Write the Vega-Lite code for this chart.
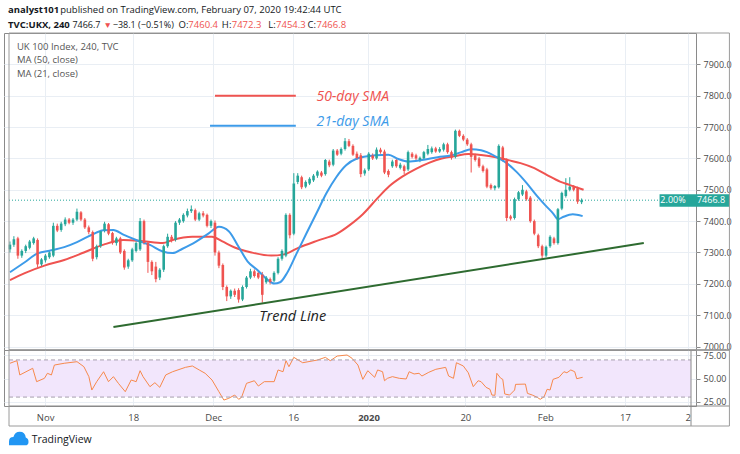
{
  "$schema": "https://vega.github.io/schema/vega-lite/v6.json",
  "background": "white",
  "padding": {"left": 3, "top": 4, "right": 0, "bottom": 0},
  "bounds": "flush",
  "spacing": 0,
  "config": {
    "view": {"stroke": "#8a8a8a", "strokeWidth": 1},
    "font": "Open Sans",
    "axis": {"labelFont": "Open Sans", "labelColor": "#4a4a4a", "labelFontSize": 9.5, "gridColor": "#e9eef4", "gridWidth": 1, "title": null, "labelOverlap": false},
    "text": {"font": "Open Sans"}
  },
  "resolve": {"scale": {"y": "independent", "x": "shared"}},
  "datasets": {
    "one": [{}],
    "candles": [
      {"t":-4.40,"o":7310,"h":7335,"l":7300,"c":7325},
      {"t":-3.91,"o":7325,"h":7352,"l":7318,"c":7342},
      {"t":-3.41,"o":7345,"h":7350,"l":7280,"c":7290},
      {"t":-2.92,"o":7290,"h":7310,"l":7283,"c":7305},
      {"t":-2.43,"o":7305,"h":7325,"l":7298,"c":7320},
      {"t":-1.94,"o":7315,"h":7340,"l":7310,"c":7335},
      {"t":-1.44,"o":7330,"h":7350,"l":7325,"c":7345},
      {"t":-0.95,"o":7340,"h":7345,"l":7253,"c":7262},
      {"t":-0.46,"o":7262,"h":7282,"l":7255,"c":7278},
      {"t":0.03,"o":7275,"h":7295,"l":7268,"c":7290},
      {"t":0.53,"o":7285,"h":7305,"l":7280,"c":7300},
      {"t":1.02,"o":7290,"h":7395,"l":7285,"c":7385},
      {"t":1.51,"o":7385,"h":7392,"l":7365,"c":7370},
      {"t":2.00,"o":7372,"h":7398,"l":7366,"c":7392},
      {"t":2.50,"o":7390,"h":7412,"l":7384,"c":7405},
      {"t":2.99,"o":7405,"h":7410,"l":7390,"c":7395},
      {"t":3.48,"o":7395,"h":7410,"l":7388,"c":7405},
      {"t":3.97,"o":7405,"h":7440,"l":7400,"c":7430},
      {"t":4.47,"o":7428,"h":7432,"l":7400,"c":7405},
      {"t":4.96,"o":7405,"h":7410,"l":7375,"c":7380},
      {"t":5.45,"o":7380,"h":7386,"l":7358,"c":7365},
      {"t":5.94,"o":7365,"h":7370,"l":7272,"c":7280},
      {"t":6.44,"o":7285,"h":7325,"l":7278,"c":7320},
      {"t":6.93,"o":7320,"h":7372,"l":7315,"c":7368},
      {"t":7.42,"o":7370,"h":7398,"l":7364,"c":7392},
      {"t":7.92,"o":7390,"h":7394,"l":7355,"c":7360},
      {"t":8.41,"o":7362,"h":7366,"l":7325,"c":7330},
      {"t":8.90,"o":7330,"h":7350,"l":7322,"c":7345},
      {"t":9.39,"o":7345,"h":7350,"l":7295,"c":7300},
      {"t":9.89,"o":7305,"h":7310,"l":7245,"c":7252},
      {"t":10.38,"o":7255,"h":7280,"l":7248,"c":7275},
      {"t":10.87,"o":7275,"h":7315,"l":7270,"c":7310},
      {"t":11.36,"o":7305,"h":7336,"l":7300,"c":7330},
      {"t":11.86,"o":7310,"h":7410,"l":7305,"c":7400},
      {"t":12.35,"o":7400,"h":7405,"l":7325,"c":7330},
      {"t":12.84,"o":7330,"h":7335,"l":7235,"c":7270},
      {"t":13.33,"o":7270,"h":7275,"l":7228,"c":7240},
      {"t":13.83,"o":7255,"h":7270,"l":7205,"c":7215},
      {"t":14.32,"o":7220,"h":7250,"l":7212,"c":7245},
      {"t":14.81,"o":7245,"h":7325,"l":7238,"c":7320},
      {"t":15.30,"o":7320,"h":7360,"l":7315,"c":7350},
      {"t":15.80,"o":7350,"h":7356,"l":7332,"c":7340},
      {"t":16.29,"o":7340,"h":7400,"l":7335,"c":7395},
      {"t":16.78,"o":7395,"h":7410,"l":7388,"c":7405},
      {"t":17.27,"o":7400,"h":7425,"l":7395,"c":7420},
      {"t":17.77,"o":7418,"h":7440,"l":7412,"c":7432},
      {"t":18.26,"o":7432,"h":7450,"l":7426,"c":7438},
      {"t":18.75,"o":7435,"h":7440,"l":7400,"c":7405},
      {"t":19.24,"o":7405,"h":7430,"l":7400,"c":7425},
      {"t":19.74,"o":7425,"h":7432,"l":7412,"c":7418},
      {"t":20.23,"o":7420,"h":7424,"l":7380,"c":7385},
      {"t":20.72,"o":7385,"h":7405,"l":7378,"c":7400},
      {"t":21.22,"o":7395,"h":7402,"l":7290,"c":7300},
      {"t":21.71,"o":7300,"h":7306,"l":7250,"c":7258},
      {"t":22.20,"o":7260,"h":7265,"l":7180,"c":7190},
      {"t":22.69,"o":7190,"h":7195,"l":7145,"c":7160},
      {"t":23.19,"o":7160,"h":7182,"l":7152,"c":7178},
      {"t":23.68,"o":7178,"h":7185,"l":7158,"c":7165},
      {"t":24.17,"o":7180,"h":7186,"l":7140,"c":7150},
      {"t":24.66,"o":7150,"h":7195,"l":7145,"c":7190},
      {"t":25.16,"o":7190,"h":7225,"l":7185,"c":7220},
      {"t":25.65,"o":7220,"h":7248,"l":7215,"c":7240},
      {"t":26.14,"o":7240,"h":7246,"l":7220,"c":7225},
      {"t":26.63,"o":7235,"h":7240,"l":7215,"c":7220},
      {"t":27.13,"o":7230,"h":7238,"l":7140,"c":7165},
      {"t":27.62,"o":7205,"h":7225,"l":7200,"c":7220},
      {"t":28.11,"o":7215,"h":7220,"l":7198,"c":7205},
      {"t":28.60,"o":7210,"h":7240,"l":7205,"c":7235},
      {"t":29.10,"o":7235,"h":7285,"l":7230,"c":7280},
      {"t":29.59,"o":7280,"h":7310,"l":7274,"c":7305},
      {"t":30.08,"o":7290,"h":7425,"l":7285,"c":7420},
      {"t":30.57,"o":7420,"h":7425,"l":7345,"c":7355},
      {"t":31.07,"o":7360,"h":7553,"l":7355,"c":7520},
      {"t":31.56,"o":7525,"h":7553,"l":7518,"c":7545},
      {"t":32.05,"o":7540,"h":7545,"l":7502,"c":7508},
      {"t":32.55,"o":7510,"h":7530,"l":7505,"c":7525},
      {"t":33.04,"o":7520,"h":7540,"l":7515,"c":7535},
      {"t":33.53,"o":7530,"h":7550,"l":7525,"c":7545},
      {"t":34.02,"o":7545,"h":7562,"l":7538,"c":7558},
      {"t":34.52,"o":7555,"h":7560,"l":7540,"c":7545},
      {"t":35.01,"o":7550,"h":7598,"l":7545,"c":7595},
      {"t":35.50,"o":7590,"h":7596,"l":7572,"c":7578},
      {"t":35.99,"o":7580,"h":7630,"l":7575,"c":7625},
      {"t":36.49,"o":7625,"h":7630,"l":7608,"c":7612},
      {"t":36.98,"o":7615,"h":7635,"l":7610,"c":7630},
      {"t":37.47,"o":7630,"h":7665,"l":7625,"c":7655},
      {"t":37.96,"o":7655,"h":7662,"l":7636,"c":7640},
      {"t":38.46,"o":7640,"h":7645,"l":7608,"c":7612},
      {"t":38.95,"o":7615,"h":7622,"l":7595,"c":7600},
      {"t":39.44,"o":7610,"h":7617,"l":7540,"c":7550},
      {"t":39.93,"o":7552,"h":7568,"l":7545,"c":7562},
      {"t":40.43,"o":7565,"h":7620,"l":7560,"c":7615},
      {"t":40.92,"o":7610,"h":7616,"l":7595,"c":7600},
      {"t":41.41,"o":7600,"h":7635,"l":7596,"c":7628},
      {"t":41.90,"o":7628,"h":7634,"l":7615,"c":7620},
      {"t":42.40,"o":7622,"h":7628,"l":7550,"c":7555},
      {"t":42.89,"o":7560,"h":7565,"l":7540,"c":7548},
      {"t":43.38,"o":7575,"h":7596,"l":7570,"c":7590},
      {"t":43.88,"o":7595,"h":7600,"l":7570,"c":7575},
      {"t":44.37,"o":7570,"h":7586,"l":7565,"c":7580},
      {"t":44.86,"o":7575,"h":7580,"l":7550,"c":7560},
      {"t":45.35,"o":7565,"h":7625,"l":7560,"c":7620},
      {"t":45.85,"o":7615,"h":7620,"l":7600,"c":7605},
      {"t":46.34,"o":7610,"h":7615,"l":7595,"c":7600},
      {"t":46.83,"o":7595,"h":7606,"l":7588,"c":7602},
      {"t":47.32,"o":7600,"h":7624,"l":7596,"c":7620},
      {"t":47.82,"o":7615,"h":7643,"l":7610,"c":7630},
      {"t":48.31,"o":7620,"h":7638,"l":7615,"c":7632},
      {"t":48.80,"o":7632,"h":7637,"l":7618,"c":7622},
      {"t":49.29,"o":7622,"h":7636,"l":7618,"c":7630},
      {"t":49.79,"o":7628,"h":7650,"l":7622,"c":7645},
      {"t":50.28,"o":7645,"h":7650,"l":7615,"c":7620},
      {"t":50.77,"o":7620,"h":7625,"l":7596,"c":7602},
      {"t":51.26,"o":7605,"h":7692,"l":7600,"c":7688},
      {"t":51.76,"o":7688,"h":7692,"l":7668,"c":7672},
      {"t":52.25,"o":7672,"h":7677,"l":7655,"c":7660},
      {"t":52.74,"o":7660,"h":7665,"l":7640,"c":7645},
      {"t":53.23,"o":7645,"h":7650,"l":7555,"c":7605},
      {"t":53.73,"o":7610,"h":7615,"l":7590,"c":7595},
      {"t":54.22,"o":7600,"h":7605,"l":7570,"c":7575},
      {"t":54.71,"o":7575,"h":7580,"l":7555,"c":7560},
      {"t":55.20,"o":7565,"h":7570,"l":7505,"c":7510},
      {"t":55.70,"o":7515,"h":7520,"l":7500,"c":7505},
      {"t":56.19,"o":7505,"h":7515,"l":7498,"c":7512},
      {"t":56.68,"o":7508,"h":7645,"l":7504,"c":7640},
      {"t":57.18,"o":7635,"h":7640,"l":7590,"c":7595},
      {"t":57.67,"o":7595,"h":7600,"l":7400,"c":7410},
      {"t":58.16,"o":7415,"h":7420,"l":7402,"c":7408},
      {"t":58.65,"o":7410,"h":7475,"l":7405,"c":7470},
      {"t":59.15,"o":7470,"h":7496,"l":7465,"c":7492},
      {"t":59.64,"o":7485,"h":7515,"l":7480,"c":7500},
      {"t":60.13,"o":7495,"h":7500,"l":7465,"c":7470},
      {"t":60.62,"o":7475,"h":7480,"l":7395,"c":7400},
      {"t":61.12,"o":7400,"h":7405,"l":7355,"c":7360},
      {"t":61.61,"o":7355,"h":7360,"l":7314,"c":7320},
      {"t":62.10,"o":7320,"h":7325,"l":7280,"c":7290},
      {"t":62.59,"o":7290,"h":7322,"l":7285,"c":7318},
      {"t":63.09,"o":7320,"h":7355,"l":7315,"c":7350},
      {"t":63.58,"o":7345,"h":7350,"l":7325,"c":7330},
      {"t":64.07,"o":7330,"h":7442,"l":7325,"c":7438},
      {"t":64.56,"o":7440,"h":7494,"l":7435,"c":7490},
      {"t":65.06,"o":7480,"h":7537,"l":7475,"c":7500},
      {"t":65.55,"o":7500,"h":7540,"l":7495,"c":7510},
      {"t":66.04,"o":7510,"h":7515,"l":7495,"c":7500},
      {"t":66.53,"o":7505,"h":7510,"l":7455,"c":7462},
      {"t":67.03,"o":7460.4,"h":7472.3,"l":7454.3,"c":7466.8}
    ],
    "ma50": [
      {"t":-4.40,"v":7212},{"t":-2.55,"v":7234},{"t":-0.09,"v":7258},{"t":2.38,"v":7276},
      {"t":4.84,"v":7300},{"t":7.30,"v":7325},{"t":9.77,"v":7340},{"t":12.23,"v":7336},
      {"t":14.69,"v":7330},{"t":15.92,"v":7340},{"t":18.39,"v":7350},{"t":20.85,"v":7350},
      {"t":22.08,"v":7336},{"t":23.68,"v":7316},{"t":25.78,"v":7300},{"t":28.24,"v":7290},
      {"t":29.84,"v":7294},{"t":31.56,"v":7314},{"t":34.03,"v":7338},{"t":36.49,"v":7360},
      {"t":38.09,"v":7388},{"t":39.69,"v":7422},{"t":41.42,"v":7470},{"t":43.02,"v":7512},
      {"t":44.62,"v":7542},{"t":46.34,"v":7567},{"t":47.95,"v":7586},{"t":49.55,"v":7600},
      {"t":51.27,"v":7608},{"t":52.87,"v":7614},{"t":54.47,"v":7611},{"t":56.32,"v":7604},
      {"t":57.80,"v":7595},{"t":59.40,"v":7585},{"t":61.12,"v":7569},{"t":62.72,"v":7547},
      {"t":64.33,"v":7526},{"t":65.56,"v":7515},{"t":67.28,"v":7500}
    ],
    "ma21": [
      {"t":-4.40,"v":7237},{"t":-2.55,"v":7269},{"t":-0.95,"v":7297},{"t":0.78,"v":7307},
      {"t":2.38,"v":7317},{"t":3.98,"v":7333},{"t":5.70,"v":7355},{"t":7.30,"v":7371},
      {"t":8.53,"v":7372},{"t":9.77,"v":7357},{"t":11.37,"v":7340},{"t":13.09,"v":7324},
      {"t":14.69,"v":7303},{"t":15.92,"v":7298},{"t":17.16,"v":7312},{"t":18.76,"v":7333},
      {"t":20.48,"v":7362},{"t":21.71,"v":7382},{"t":22.94,"v":7368},{"t":24.17,"v":7318},
      {"t":25.28,"v":7272},{"t":26.52,"v":7244},{"t":27.75,"v":7214},{"t":28.61,"v":7201},
      {"t":29.35,"v":7205},{"t":30.21,"v":7234},{"t":31.44,"v":7298},{"t":32.67,"v":7362},
      {"t":33.90,"v":7425},{"t":35.14,"v":7489},{"t":36.37,"v":7540},{"t":37.60,"v":7578},
      {"t":38.83,"v":7598},{"t":41.29,"v":7610},{"t":42.89,"v":7612},{"t":44.13,"v":7598},
      {"t":45.36,"v":7590},{"t":47.08,"v":7595},{"t":49.05,"v":7604},{"t":50.78,"v":7610},
      {"t":52.01,"v":7620},{"t":53.24,"v":7629},{"t":54.47,"v":7626},{"t":55.21,"v":7620},
      {"t":56.44,"v":7604},{"t":57.67,"v":7585},{"t":58.90,"v":7557},{"t":60.14,"v":7522},
      {"t":61.37,"v":7483},{"t":62.48,"v":7451},{"t":63.46,"v":7425},{"t":64.08,"v":7406},
      {"t":64.70,"v":7413},{"t":65.92,"v":7422},{"t":67.16,"v":7416}
    ],
    "rsi": [
      {"t":-4.40,"v":66.4},{"t":-3.53,"v":69.2},{"t":-3.17,"v":53.8},{"t":-1.56,"v":61.0},
      {"t":-1.07,"v":46.6},{"t":-0.09,"v":50.2},{"t":0.28,"v":55.6},{"t":0.78,"v":53.8},
      {"t":1.15,"v":64.5},{"t":2.38,"v":66.4},{"t":3.98,"v":68.1},{"t":4.84,"v":62.7},
      {"t":5.46,"v":52.0},{"t":5.83,"v":37.6},{"t":6.44,"v":46.6},{"t":7.30,"v":57.3},
      {"t":7.91,"v":46.6},{"t":8.53,"v":52.0},{"t":9.15,"v":44.8},{"t":10.01,"v":35.8},
      {"t":10.75,"v":48.4},{"t":11.37,"v":46.6},{"t":11.86,"v":58.4},{"t":12.23,"v":52.0},
      {"t":13.09,"v":41.2},{"t":13.71,"v":45.5},{"t":14.32,"v":40.5},{"t":15.06,"v":53.8},
      {"t":15.92,"v":57.3},{"t":17.52,"v":62.0},{"t":18.39,"v":63.5},{"t":19.25,"v":59.2},
      {"t":19.99,"v":55.6},{"t":20.85,"v":48.4},{"t":21.71,"v":35.8},{"t":22.33,"v":26.8},
      {"t":22.95,"v":28.7},{"t":23.68,"v":32.2},{"t":24.18,"v":27.6},{"t":24.54,"v":29.7},
      {"t":25.16,"v":44.8},{"t":26.14,"v":47.6},{"t":26.64,"v":41.9},{"t":27.38,"v":46.6},
      {"t":28.61,"v":46.6},{"t":29.10,"v":59.2},{"t":29.72,"v":57.3},{"t":30.09,"v":69.2},
      {"t":30.46,"v":62.7},{"t":31.07,"v":72.8},{"t":32.18,"v":67.0},{"t":34.03,"v":69.9},
      {"t":35.01,"v":72.8},{"t":35.63,"v":69.2},{"t":36.49,"v":74.2},{"t":37.72,"v":75.3},
      {"t":38.34,"v":71.8},{"t":39.08,"v":64.5},{"t":39.69,"v":49.1},{"t":40.31,"v":58.4},
      {"t":41.17,"v":51.3},{"t":41.54,"v":59.2},{"t":42.16,"v":57.3},{"t":42.40,"v":47.6},
      {"t":42.77,"v":50.2},{"t":43.39,"v":52.0},{"t":44.25,"v":50.2},{"t":45.11,"v":49.5},
      {"t":45.48,"v":57.3},{"t":46.10,"v":54.9},{"t":46.71,"v":55.6},{"t":47.08,"v":52.7},
      {"t":47.94,"v":56.7},{"t":48.81,"v":59.9},{"t":50.04,"v":62.0},{"t":50.41,"v":52.7},
      {"t":51.02,"v":50.2},{"t":51.39,"v":67.0},{"t":52.25,"v":63.5},{"t":52.87,"v":56.2},
      {"t":53.49,"v":41.2},{"t":54.10,"v":47.6},{"t":54.47,"v":46.6},{"t":55.09,"v":40.5},
      {"t":55.58,"v":38.4},{"t":55.82,"v":32.2},{"t":56.20,"v":31.9},{"t":56.44,"v":55.6},
      {"t":56.93,"v":50.2},{"t":57.18,"v":49.1},{"t":57.43,"v":33.3},{"t":58.04,"v":32.2},
      {"t":58.66,"v":37.6},{"t":58.78,"v":43.7},{"t":60.01,"v":44.0},{"t":60.26,"v":34.0},
      {"t":60.87,"v":32.2},{"t":61.49,"v":29.7},{"t":61.86,"v":27.6},{"t":62.35,"v":30.4},
      {"t":62.72,"v":38.4},{"t":63.09,"v":37.6},{"t":63.46,"v":49.1},{"t":64.20,"v":51.3},
      {"t":64.82,"v":57.3},{"t":65.19,"v":56.2},{"t":65.68,"v":59.2},{"t":66.17,"v":57.3},
      {"t":66.42,"v":49.8},{"t":67.16,"v":51.3}
    ],
    "trend": [
      {"t":8.53,"p":7062},
      {"t":74.8,"p":7330}
    ]
  },
  "vconcat": [
    {
      "width": 692,
      "height": 317,
      "layer": [
        {
          "data": {"name": "candles"},
          "mark": {"type": "rule", "strokeWidth": 1},
          "encoding": {
            "x": {"field": "t", "type": "quantitative",
                  "scale": {"domain": [-4.52, 80.7], "nice": false, "zero": false},
                  "axis": {"values": [0, 11, 21, 31, 40.4, 52.5, 62.5, 72.45, 80.3], "tickCount": 30, "grid": true, "labels": false, "ticks": false, "domain": false, "title": null}},
            "y": {"field": "l", "type": "quantitative",
                  "scale": {"domain": [6989, 8000], "nice": false, "zero": false},
                  "axis": {"orient": "right", "values": [7000, 7100, 7200, 7300, 7400, 7500, 7600, 7700, 7800, 7900], "tickCount": 30, "format": ".1f", "grid": true, "domain": false, "tickSize": 4, "tickColor": "#8a8a8a", "labelPadding": 3, "labelFontSize": 9, "labelOverlap": false, "title": null}},
            "y2": {"field": "h"},
            "color": {"condition": {"test": "datum.c >= datum.o", "value": "#26a69a"}, "value": "#ef5350"}
          }
        },
        {
          "data": {"name": "one"},
          "mark": {"type": "rule", "stroke": "#26a69a", "strokeDash": [1, 2], "strokeWidth": 1},
          "encoding": {"x": {"datum": -4.52}, "x2": {"datum": 76.77}, "y": {"datum": 7466.8}}
        },
        {
          "data": {"name": "ma50"},
          "mark": {"type": "line", "color": "#ef5350", "strokeWidth": 2, "interpolate": "monotone"},
          "encoding": {"x": {"field": "t", "type": "quantitative"}, "y": {"field": "v", "type": "quantitative"}}
        },
        {
          "data": {"name": "ma21"},
          "mark": {"type": "line", "color": "#3d9be9", "strokeWidth": 2, "interpolate": "monotone"},
          "encoding": {"x": {"field": "t", "type": "quantitative"}, "y": {"field": "v", "type": "quantitative"}}
        },
        {
          "data": {"name": "candles"},
          "mark": {"type": "bar", "size": 2.6},
          "encoding": {
            "x": {"field": "t", "type": "quantitative"},
            "y": {"field": "o", "type": "quantitative"},
            "y2": {"field": "c"},
            "color": {"condition": {"test": "datum.c >= datum.o", "value": "#26a69a"}, "value": "#ef5350"}
          }
        },
        {
          "data": {"name": "trend"},
          "mark": {"type": "line", "color": "#2e6b30", "strokeWidth": 2},
          "encoding": {"x": {"field": "t", "type": "quantitative"}, "y": {"field": "p", "type": "quantitative"}}
        },
        {
          "data": {"name": "one"},
          "mark": {"type": "rule", "color": "#ef5350", "strokeWidth": 2},
          "encoding": {"x": {"datum": 21.22}, "x2": {"datum": 31.32}, "y": {"datum": 7800}}
        },
        {
          "data": {"name": "one"},
          "mark": {"type": "rule", "color": "#3d9be9", "strokeWidth": 2},
          "encoding": {"x": {"datum": 20.6}, "x2": {"datum": 31.32}, "y": {"datum": 7704}}
        },
        {
          "data": {"name": "one"},
          "mark": {"type": "text", "align": "left", "baseline": "middle", "fontSize": 14, "fontStyle": "italic", "font": "Open Sans", "color": "#ef5350", "text": "50-day SMA"},
          "encoding": {"x": {"datum": 33.9}, "y": {"datum": 7795}}
        },
        {
          "data": {"name": "one"},
          "mark": {"type": "text", "align": "left", "baseline": "middle", "fontSize": 14, "fontStyle": "italic", "font": "Open Sans", "color": "#3d9be9", "text": "21-day SMA"},
          "encoding": {"x": {"datum": 33.9}, "y": {"datum": 7715}}
        },
        {
          "data": {"name": "one"},
          "mark": {"type": "text", "align": "left", "baseline": "middle", "fontSize": 14.5, "fontStyle": "italic", "font": "Open Sans", "color": "#222222", "text": "Trend Line"},
          "encoding": {"x": {"datum": 26.76}, "y": {"datum": 7094}}
        },
        {
          "data": {"name": "one"},
          "mark": {"type": "text", "align": "left", "baseline": "middle", "fontSize": 9.5, "color": "#555555", "text": "UK 100 Index, 240, TVC"},
          "encoding": {"x": {"datum": -3.53}, "y": {"datum": 7955}}
        },
        {
          "data": {"name": "one"},
          "mark": {"type": "text", "align": "left", "baseline": "middle", "fontSize": 9.5, "color": "#555555", "text": "MA (50, close)"},
          "encoding": {"x": {"datum": -3.53}, "y": {"datum": 7913}}
        },
        {
          "data": {"name": "one"},
          "mark": {"type": "text", "align": "left", "baseline": "middle", "fontSize": 9.5, "color": "#555555", "text": "MA (21, close)"},
          "encoding": {"x": {"datum": -3.53}, "y": {"datum": 7870}}
        },
        {
          "data": {"name": "one"},
          "mark": {"type": "rect", "color": "#26a69a"},
          "encoding": {"x": {"datum": 76.77}, "x2": {"datum": 85.5}, "y": {"datum": 7446}, "y2": {"datum": 7486}}
        },
        {
          "data": {"name": "one"},
          "mark": {"type": "text", "align": "center", "baseline": "middle", "fontSize": 9, "color": "white", "text": "2.00%"},
          "encoding": {"x": {"datum": 78.45}, "y": {"datum": 7466.8}}
        },
        {
          "data": {"name": "one"},
          "mark": {"type": "text", "align": "center", "baseline": "middle", "fontSize": 9, "color": "white", "text": "7466.8"},
          "encoding": {"x": {"datum": 83.2}, "y": {"datum": 7466.8}}
        },
        {
          "data": {"name": "one"},
          "mark": {"type": "rect", "fill": null, "stroke": "#9a9a9a", "strokeWidth": 1},
          "encoding": {"x": {"datum": -4.52}, "x2": {"datum": 85.5}, "y": {"datum": 6989}, "y2": {"datum": 8000}}
        },
        {
          "data": {"name": "one"},
          "mark": {"type": "text", "align": "left", "baseline": "middle", "fontSize": 9.5, "fontWeight": "bold", "color": "#131722", "text": "analyst101"},
          "encoding": {"x": {"datum": -4.64}, "y": {"datum": 8072}}
        },
        {
          "data": {"name": "one"},
          "mark": {"type": "text", "align": "left", "baseline": "middle", "fontSize": 9.5, "color": "#131722", "text": "published on TradingView.com, February 07, 2020 19:42:44 UTC"},
          "encoding": {"x": {"datum": 1.88}, "y": {"datum": 8072}}
        },
        {
          "data": {"name": "one"},
          "mark": {"type": "text", "align": "left", "baseline": "middle", "fontSize": 9.5, "fontWeight": "bold", "color": "#131722", "text": "TVC:UKX, 240"},
          "encoding": {"x": {"datum": -4.64}, "y": {"datum": 8026}}
        },
        {
          "data": {"name": "one"},
          "mark": {"type": "text", "align": "left", "baseline": "middle", "fontSize": 9, "color": "#131722", "text": "7466.7"},
          "encoding": {"x": {"datum": 3.4}, "y": {"datum": 8026}}
        },
        {
          "data": {"name": "one"},
          "mark": {"type": "text", "align": "left", "baseline": "middle", "fontSize": 8.5, "color": "#ef5350", "text": "▼"},
          "encoding": {"x": {"datum": 7.3}, "y": {"datum": 8026}}
        },
        {
          "data": {"name": "one"},
          "mark": {"type": "text", "align": "left", "baseline": "middle", "fontSize": 9, "color": "#131722", "text": "−38.1 (−0.51%)"},
          "encoding": {"x": {"datum": 8.45}, "y": {"datum": 8026}}
        },
        {
          "data": {"name": "one"},
          "mark": {"type": "text", "align": "left", "baseline": "middle", "fontSize": 9.5, "color": "#131722", "text": "O:"},
          "encoding": {"x": {"datum": 16.66}, "y": {"datum": 8026}}
        },
        {
          "data": {"name": "one"},
          "mark": {"type": "text", "align": "left", "baseline": "middle", "fontSize": 9.5, "color": "#ef5350", "text": "7460.4"},
          "encoding": {"x": {"datum": 17.89}, "y": {"datum": 8026}}
        },
        {
          "data": {"name": "one"},
          "mark": {"type": "text", "align": "left", "baseline": "middle", "fontSize": 9.5, "color": "#131722", "text": "H:"},
          "encoding": {"x": {"datum": 22.08}, "y": {"datum": 8026}}
        },
        {
          "data": {"name": "one"},
          "mark": {"type": "text", "align": "left", "baseline": "middle", "fontSize": 9.5, "color": "#ef5350", "text": "7472.3"},
          "encoding": {"x": {"datum": 23.31}, "y": {"datum": 8026}}
        },
        {
          "data": {"name": "one"},
          "mark": {"type": "text", "align": "left", "baseline": "middle", "fontSize": 9.5, "color": "#131722", "text": "L:"},
          "encoding": {"x": {"datum": 27.87}, "y": {"datum": 8026}}
        },
        {
          "data": {"name": "one"},
          "mark": {"type": "text", "align": "left", "baseline": "middle", "fontSize": 9.5, "color": "#ef5350", "text": "7454.3"},
          "encoding": {"x": {"datum": 28.85}, "y": {"datum": 8026}}
        },
        {
          "data": {"name": "one"},
          "mark": {"type": "text", "align": "left", "baseline": "middle", "fontSize": 9.5, "color": "#131722", "text": "C:"},
          "encoding": {"x": {"datum": 32.79}, "y": {"datum": 8026}}
        },
        {
          "data": {"name": "one"},
          "mark": {"type": "text", "align": "left", "baseline": "middle", "fontSize": 9.5, "color": "#ef5350", "text": "7466.8"},
          "encoding": {"x": {"datum": 33.9}, "y": {"datum": 8026}}
        }
      ]
    },
    {
      "width": 692,
      "height": 56,
      "layer": [
        {
          "data": {"name": "one"},
          "mark": {"type": "rect", "color": "#f2e6fc"},
          "encoding": {"x": {"datum": -4.52}, "x2": {"datum": 80.7}, "y": {"datum": 30}, "y2": {"datum": 70}}
        },
        {
          "data": {"name": "rsi"},
          "mark": {"type": "line", "color": "#f7894c", "strokeWidth": 1},
          "encoding": {
            "x": {"field": "t", "type": "quantitative",
                  "scale": {"domain": [-4.52, 80.7], "nice": false, "zero": false},
                  "axis": {"values": [0, 11, 21, 31, 40.4, 52.5, 62.5, 72.45, 80.3], "tickCount": 30, "grid": true, "ticks": false, "domain": false, "labelPadding": 6, "title": null, "labelOverlap": false,
                           "labelFontWeight": {"condition": {"test": "datum.value == 40.4", "value": "bold"}, "value": "normal"},
                           "labelExpr": "datum.value == 0 ? 'Nov' : datum.value == 11 ? '18' : datum.value == 21 ? 'Dec' : datum.value == 31 ? '16' : datum.value == 40.4 ? '2020' : datum.value == 52.5 ? '20' : datum.value == 62.5 ? 'Feb' : datum.value == 72.45 ? '17' : '2'"}},
            "y": {"field": "v", "type": "quantitative",
                  "scale": {"domain": [20.4, 80.7], "nice": false, "zero": false},
                  "axis": {"orient": "right", "values": [25, 50, 75], "tickCount": 10, "format": ".2f", "grid": true, "domain": false, "tickSize": 4, "tickColor": "#8a8a8a", "labelPadding": 3, "labelFontSize": 9, "labelOverlap": false, "title": null}}
          }
        },
        {
          "data": {"name": "one"},
          "mark": {"type": "rule", "color": "#a8a0ae", "strokeDash": [4, 3], "strokeWidth": 1},
          "encoding": {"x": {"datum": -4.52}, "x2": {"datum": 80.7}, "y": {"datum": 70}}
        },
        {
          "data": {"name": "one"},
          "mark": {"type": "rule", "color": "#a8a0ae", "strokeDash": [4, 3], "strokeWidth": 1},
          "encoding": {"x": {"datum": -4.52}, "x2": {"datum": 80.7}, "y": {"datum": 30}}
        },
        {
          "data": {"name": "one"},
          "mark": {"type": "rule", "color": "#8a8a8a", "strokeWidth": 1},
          "encoding": {"x": {"datum": -4.52}, "x2": {"datum": 85.5}, "y": {"datum": 80.7}}
        },
        {
          "data": {"name": "one"},
          "mark": {"type": "rule", "color": "#8a8a8a", "strokeWidth": 1},
          "encoding": {"x": {"datum": -4.52}, "x2": {"datum": 85.5}, "y": {"datum": 20.4}}
        },
        {
          "data": {"name": "one"},
          "mark": {"type": "rule", "color": "#8a8a8a", "strokeWidth": 1},
          "encoding": {"x": {"datum": 80.7}, "y": {"datum": -1.15}, "y2": {"datum": 80.7}}
        },
        {
          "data": {"name": "one"},
          "mark": {"type": "rect", "fill": null, "stroke": "#9a9a9a", "strokeWidth": 1},
          "encoding": {"x": {"datum": -4.52}, "x2": {"datum": 85.5}, "y": {"datum": -1.15}, "y2": {"datum": 80.7}}
        },
        {
          "data": {"name": "one"},
          "mark": {"type": "point", "filled": true, "color": "#2196f3", "size": 380, "opacity": 1,
                   "shape": "M -1 0.55 L -1 0.15 Q -1 -0.3 -0.55 -0.3 Q -0.4 -0.85 0.1 -0.85 Q 0.65 -0.85 0.72 -0.25 Q 1 -0.15 1 0.2 Q 1 0.55 0.65 0.55 Z"},
          "encoding": {"x": {"datum": -3.3}, "y": {"datum": -16.2}}
        },
        {
          "data": {"name": "one"},
          "mark": {"type": "text", "align": "left", "baseline": "middle", "fontSize": 10.5, "color": "#131722", "text": "TradingView"},
          "encoding": {"x": {"datum": -1.69}, "y": {"datum": -16.2}}
        }
      ]
    }
  ]
}
